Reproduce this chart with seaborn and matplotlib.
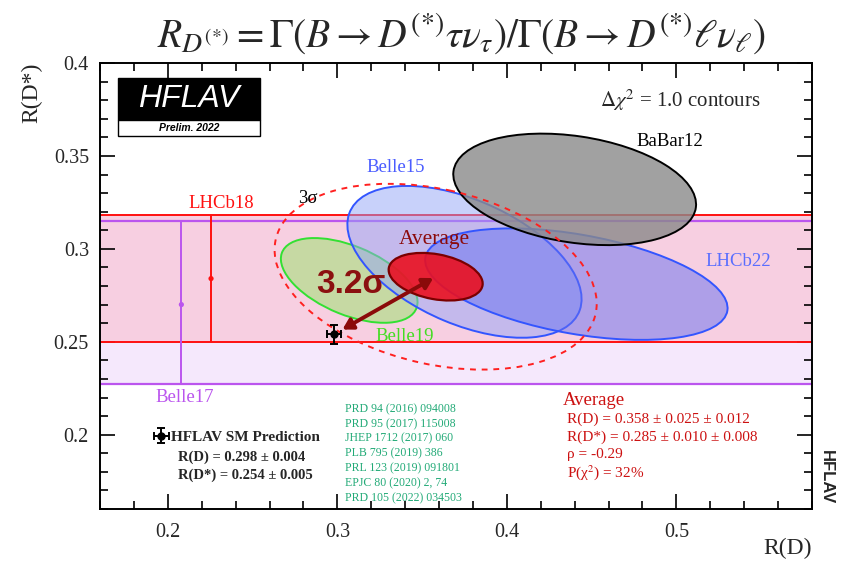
import numpy as np
import pandas as pd
import seaborn as sns
import matplotlib
matplotlib.use("Agg")
import matplotlib.pyplot as plt
from matplotlib.patches import Ellipse, Rectangle
from matplotlib.ticker import MultipleLocator, FuncFormatter

# Two-dimensional R(D)-R(D*) measurements (stat, syst, correlation)
experiments = ["Belle19", "Belle15", "LHCb22", "BaBar12"]
rd_val = [0.307, 0.375, 0.441, 0.440]
rd_stat = [0.037, 0.064, 0.060, 0.058]
rd_syst = [0.016, 0.026, 0.066, 0.042]
rds_val = [0.283, 0.293, 0.281, 0.332]
rds_stat = [0.018, 0.038, 0.018, 0.024]
rds_syst = [0.014, 0.015, 0.024, 0.018]
rho = [-0.51, -0.49, -0.43, -0.27]

# World average
avg_rd, avg_rd_stat, avg_rd_syst = 0.358, 0.025, 0.012
avg_rds, avg_rds_stat, avg_rds_syst = 0.285, 0.010, 0.008
avg_rho = -0.29
avg_pchi2 = 32
sm_tension = 3.2
# half-extents of the 3 sigma contour around the average
avg_3sig_rd, avg_3sig_rds = 0.095, 0.050

# Standard Model prediction
sm_rd, sm_rd_err = 0.298, 0.004
sm_rds, sm_rds_err = 0.254, 0.005

# R(D*)-only measurements, drawn as horizontal bands
band_names = ["Belle17", "LHCb18"]
band_x = [0.208, 0.2255]
band_val = [0.270, 0.284]
band_err_lo = [0.043, 0.034]
band_err_hi = [0.045, 0.034]

references = ["PRD 94 (2016) 094008", "PRD 95 (2017) 115008",
              "JHEP 1712 (2017) 060", "PLB 795 (2019) 386",
              "PRL 123 (2019) 091801", "EPJC 80 (2020) 2, 74",
              "PRD 105 (2022) 034503"]

x_ticks = [0.2, 0.3, 0.4, 0.5]
y_ticks = [0.2, 0.25, 0.3, 0.35, 0.4]

meas = pd.DataFrame(dict(name=experiments, rd=rd_val, rd_stat=rd_stat, rd_syst=rd_syst,
                         rds=rds_val, rds_stat=rds_stat, rds_syst=rds_syst, rho=rho))
meas["sx"] = np.hypot(meas.rd_stat, meas.rd_syst)
meas["sy"] = np.hypot(meas.rds_stat, meas.rds_syst)

sns.set_style("ticks")
plt.rcParams["font.family"] = ["Liberation Serif", "DejaVu Serif"]
plt.rcParams["mathtext.fontset"] = "stix"

fig = plt.figure(figsize=(8.42, 5.65), dpi=100)
ax = fig.add_axes([100 / 842, 1 - 509 / 565, 712 / 842, 446 / 565])
ax.set_xlim(0.16, 0.58)
ax.set_ylim(0.16, 0.40)


def cov_ellipse(x, y, sx, sy, r, dchi2=1.0, **kw):
    cov = np.array([[sx ** 2, r * sx * sy], [r * sx * sy, sy ** 2]])
    vals, vecs = np.linalg.eigh(cov)
    order = vals.argsort()[::-1]
    vals, vecs = vals[order], vecs[:, order]
    angle = np.degrees(np.arctan2(vecs[1, 0], vecs[0, 0]))
    w, h = 2 * np.sqrt(dchi2 * vals)
    return Ellipse((x, y), w, h, angle=angle, **kw)


# Bands for R(D*)-only results
b17_lo = band_val[0] - band_err_lo[0]
b17_hi = band_val[0] + band_err_hi[0]
l18_lo = band_val[1] - band_err_lo[1]
l18_hi = band_val[1] + band_err_hi[1]
ax.axhspan(b17_lo, b17_hi, color="#f5e8fc", lw=0, zorder=0)
ax.axhspan(l18_lo, l18_hi, color="#f7cfe1", lw=0, zorder=0.5)
for yv in (b17_lo, b17_hi):
    ax.axhline(yv, color="#bb55ee", lw=1.6, zorder=1)
for yv in (l18_lo, l18_hi):
    ax.axhline(yv, color="#ff1010", lw=1.4, zorder=1.1)

band_df = pd.DataFrame(dict(x=band_x, y=band_val, name=band_names))
band_colors = ["#bb55ee", "#ff1010"]
for i in range(2):
    ax.vlines(band_x[i], band_val[i] - band_err_lo[i], band_val[i] + band_err_hi[i],
              color=band_colors[i], lw=1.4, zorder=2)
sns.scatterplot(data=band_df, x="x", y="y", hue="name", palette=band_colors,
                s=14, edgecolor="none", legend=False, ax=ax, zorder=3)

# Measurement ellipses
styles = {
    "Belle19": dict(fc="#a6e07a", alpha=0.6, ec="#33e033"),
    "Belle15": dict(fc="#93a4f7", alpha=0.5, ec="#3355ff"),
    "LHCb22": dict(fc="#6670f0", alpha=0.5, ec="#3355ff"),
    "BaBar12": dict(fc="#8a8a8a", alpha=0.8, ec="black"),
}
for i, row in meas.iterrows():
    st = styles[row["name"]]
    e = cov_ellipse(row.rd, row.rds, row.sx, row.sy, row.rho, fc=st["fc"],
                    ec="none", alpha=st["alpha"], zorder=4 + i)
    ax.add_patch(e)
    e2 = cov_ellipse(row.rd, row.rds, row.sx, row.sy, row.rho, fc="none",
                     ec=st["ec"], lw=1.4, zorder=4.5 + i)
    ax.add_patch(e2)

asx = np.hypot(avg_rd_stat, avg_rd_syst)
asy = np.hypot(avg_rds_stat, avg_rds_syst)
ax.add_patch(cov_ellipse(avg_rd, avg_rds, asx, asy, avg_rho, fc="#ea1020", alpha=0.9,
                         ec="none", zorder=10))
ax.add_patch(cov_ellipse(avg_rd, avg_rds, asx, asy, avg_rho, fc="none", ec="#7a0000",
                         lw=1.6, zorder=10.5))
ax.add_patch(cov_ellipse(avg_rd, avg_rds, avg_3sig_rd, avg_3sig_rds, avg_rho, fc="none",
                         ec="#ff2020", lw=1.4, ls=(0, (3, 3)), zorder=11))

# SM prediction
sm = ax.errorbar([sm_rd], [sm_rds], xerr=[sm_rd_err], yerr=[sm_rds_err], fmt="o",
                 color="black", ms=5, capsize=3, elinewidth=1.4, capthick=1.4, zorder=12)

# Arrow between SM and average
ax.annotate("", xy=(avg_rd, avg_rds), xytext=(sm_rd, sm_rds),
            arrowprops=dict(arrowstyle="<|-|>,head_length=0.6,head_width=0.35",
                            color="#8b0a0a", lw=2.8, shrinkA=7, shrinkB=2),
            zorder=13)
ax.text(0.353, 0.504, f"{sm_tension}\u03c3", transform=ax.transAxes, fontsize=24,
        fontweight="bold", color="#8b1010", ha="center", va="center",
        family=["Liberation Sans", "DejaVu Sans"], zorder=14)

# Ellipse and band labels
lab = dict(transform=ax.transAxes, ha="center", va="center", fontsize=13.5, zorder=15)
ax.text(0.416, 0.765, "Belle15", color="#4a5cff", **lab)
ax.text(0.801, 0.823, "BaBar12", color="black", **lab)
ax.text(0.896, 0.554, "LHCb22", color="#5a6eff", **lab)
ax.text(0.428, 0.386, "Belle19", color="#44dd22", **lab)
ax.text(0.292, 0.697, "3\u03c3", color="black", **lab)
ax.text(0.171, 0.686, "LHCb18", color="#ff1010", **lab)
ax.text(0.119, 0.251, "Belle17", color="#bb55ee", **lab)
ax.text(0.470, 0.605, "Average", transform=ax.transAxes, ha="center", va="center",
        fontsize=15.5, color="#8b0a0a", zorder=15)
ax.text(0.815, 0.917, "$\\Delta\\chi^2$ = 1.0 contours", transform=ax.transAxes,
        ha="center", va="center", fontsize=15, zorder=15)

# SM legend
ax.legend(handles=[sm], labels=["HFLAV SM Prediction"], loc="center left",
          bbox_to_anchor=(0.068, 0.161), frameon=False, handlelength=0.9,
          handletextpad=0.15, borderaxespad=0,
          prop=dict(family="Liberation Serif", weight="bold", size=11))
ax.text(0.110, 0.117, f"R(D) = {sm_rd:.3f} \u00b1 {sm_rd_err:.3f}", transform=ax.transAxes,
        ha="left", va="center", fontsize=10.5, fontweight="bold")
ax.text(0.110, 0.076, f"R(D*) = {sm_rds:.3f} \u00b1 {sm_rds_err:.3f}", transform=ax.transAxes,
        ha="left", va="center", fontsize=10.5, fontweight="bold")

# Reference list
for k, ref in enumerate(references):
    ax.text(0.344, 0.224 - k * 0.0332, ref, transform=ax.transAxes, ha="left",
            va="center", fontsize=8.5, color="#22aa77")

# Average summary
avg_col = "#cc1111"
ax.text(0.650, 0.244, "Average", transform=ax.transAxes, ha="left", va="center",
        fontsize=13.5, color=avg_col)
avg_lines = [f"R(D) = {avg_rd:.3f} \u00b1 {avg_rd_stat:.3f} \u00b1 {avg_rd_syst:.3f}",
             f"R(D*) = {avg_rds:.3f} \u00b1 {avg_rds_stat:.3f} \u00b1 {avg_rds_syst:.3f}",
             f"\u03c1 = {avg_rho:.2f}",
             f"P(\u03c7$^2$) = {avg_pchi2}%"]
for k, (s, yy) in enumerate(zip(avg_lines, [0.202, 0.161, 0.123, 0.081])):
    ax.text(0.656, yy, s, transform=ax.transAxes, ha="left", va="center",
            fontsize=11, color=avg_col)

# HFLAV logo
ax.add_patch(Rectangle((0.0253, 0.872), 0.1994, 0.094, transform=ax.transAxes,
                       fc="black", ec="black", lw=1, zorder=20))
ax.add_patch(Rectangle((0.0253, 0.836), 0.1994, 0.036, transform=ax.transAxes,
                       fc="white", ec="black", lw=1, zorder=20))
ax.text(0.125, 0.919, "HFLAV", transform=ax.transAxes, ha="center", va="center",
        fontsize=23, style="italic", color="white",
        family=["Liberation Sans", "DejaVu Sans"], zorder=21)
ax.text(0.125, 0.854, "Prelim. 2022", transform=ax.transAxes, ha="center", va="center",
        fontsize=7.5, style="italic", fontweight="bold", color="black",
        family=["Liberation Sans", "DejaVu Sans"], zorder=21)
ax.text(1.02, 0.072, "HFLAV", transform=ax.transAxes, ha="center", va="center",
        rotation=-90, fontsize=12, fontweight="bold",
        family=["Liberation Sans", "DejaVu Sans"], clip_on=False)

# Axes styling
ax.set_xlabel("")
ax.set_ylabel("")
ax.set_xticks(x_ticks)
ax.set_yticks(y_ticks)
ax.xaxis.set_minor_locator(MultipleLocator(0.02))
ax.yaxis.set_minor_locator(MultipleLocator(0.01))
fmt = FuncFormatter(lambda v, p: f"{v:g}")
ax.xaxis.set_major_formatter(fmt)
ax.yaxis.set_major_formatter(fmt)
ax.tick_params(which="both", direction="in", top=True, right=True, width=1.2,
               labelsize=14.5, color="black")
ax.tick_params(which="major", length=11)
ax.tick_params(which="minor", length=6)
ax.tick_params(axis="x", pad=10)
ax.tick_params(axis="y", pad=8)
for sp in ax.spines.values():
    sp.set_linewidth(1.4)
    sp.set_color("black")

fig.text(32 / 842, 1 - 93 / 565, "R(D*)", rotation=90, ha="center", va="center", fontsize=17)
fig.text(812 / 842, 1 - 548 / 565, "R(D)", ha="right", va="center", fontsize=17)
fig.text(461 / 842, 1 - 34 / 565,
         r"$R_{D^{(*)}} = \Gamma(B \rightarrow D^{(*)}\tau\nu_\tau)/\Gamma(B \rightarrow D^{(*)}\ell\nu_\ell)$",
         ha="center", va="center", fontsize=28.5)

fig.savefig("out.png", dpi=100)
